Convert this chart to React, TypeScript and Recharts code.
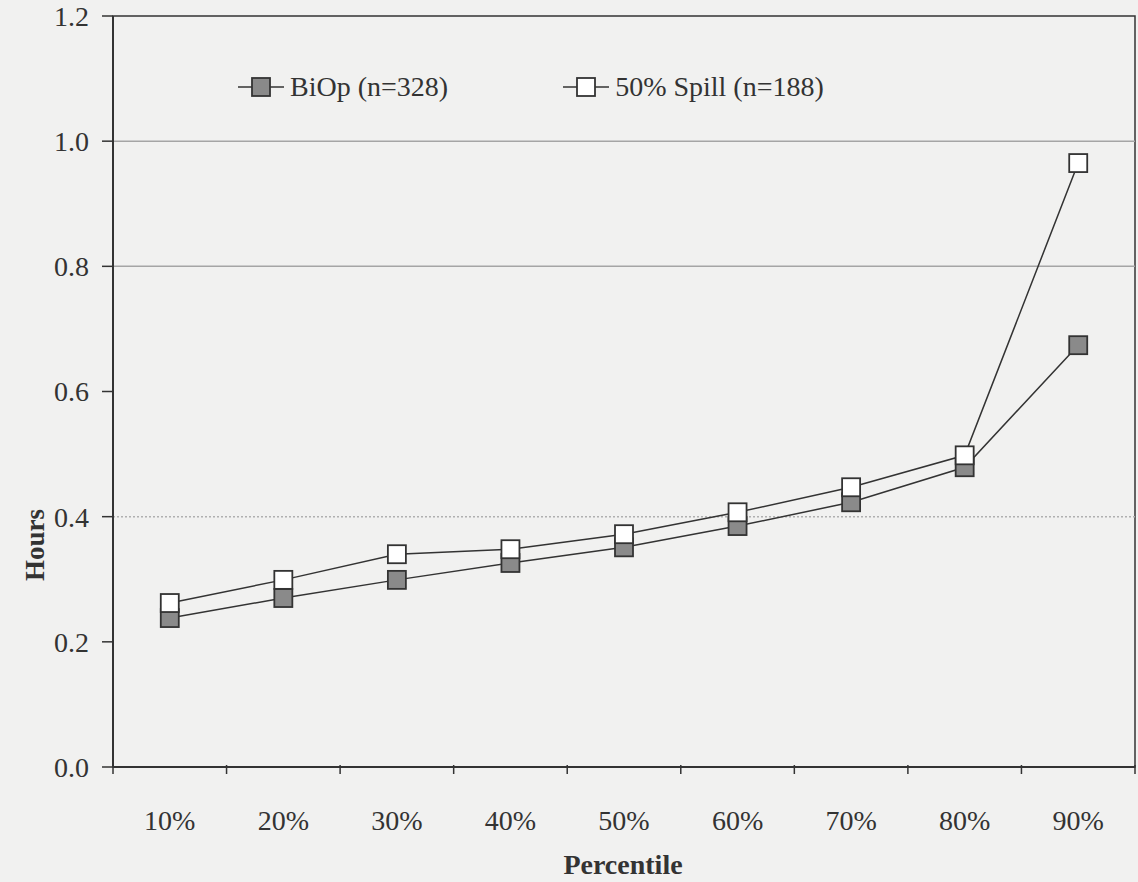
import { LineChart, Line, XAxis, YAxis, Legend, ReferenceArea, ReferenceLine } from 'recharts'

const categories = ['10%', '20%', '30%', '40%', '50%', '60%', '70%', '80%', '90%']
const biop = [0.238, 0.27, 0.299, 0.326, 0.351, 0.385, 0.423, 0.479, 0.674]
const spill = [0.262, 0.299, 0.34, 0.348, 0.372, 0.407, 0.447, 0.498, 0.965]
const yTicks = [0, 0.2, 0.4, 0.6, 0.8, 1.0, 1.2]

const seriesOrder = ['biop', 'spill']
const seriesNames: Record<string, string> = {
  biop: 'BiOp (n=328)',
  spill: '50% Spill (n=188)',
}
const seriesFill: Record<string, string> = {
  biop: '#8a8a8a',
  spill: '#ffffff',
}

const data = categories.map((c, i) => ({ pos: i + 0.5, category: c, biop: biop[i], spill: spill[i] }))

// tick marks sit on the category boundaries, labels in the middle of each category
const xTicks = [
  ...categories.map((_, i) => i),
  categories.length,
  ...categories.map((_, i) => i + 0.5),
]

const FONT = '"Liberation Serif", "Times New Roman", serif'
const INK = '#333'

function XTick(props: any) {
  const { x, y, payload } = props
  const v = payload.value
  if (Number.isInteger(v)) {
    return <line x1={x} x2={x} y1={y - 2} y2={y + 7} stroke={INK} strokeWidth={1.5} />
  }
  return (
    <text x={x} y={y + 53} textAnchor="middle" dominantBaseline="central" fontSize={28} fontFamily={FONT} fill={INK}>
      {categories[Math.floor(v)]}
    </text>
  )
}

const squareDot = (fill: string) => (p: any) => (
  <rect
    key={`${p.dataKey}-${p.index}`}
    x={p.cx - 9}
    y={p.cy - 9}
    width={18}
    height={18}
    fill={fill}
    stroke={INK}
    strokeWidth={1.8}
  />
)

function LegendContent(props: any) {
  const items = [...(props.payload || [])].sort(
    (a: any, b: any) => seriesOrder.indexOf(a.dataKey) - seriesOrder.indexOf(b.dataKey),
  )
  return (
    <div style={{ display: 'flex', gap: 115, fontFamily: FONT, fontSize: 28, color: INK, lineHeight: '30px' }}>
      {items.map((it: any) => (
        <div key={it.dataKey} style={{ display: 'flex', alignItems: 'center' }}>
          <svg width={46} height={20} style={{ marginRight: 6 }}>
            <line x1={0} x2={46} y1={10} y2={10} stroke={INK} strokeWidth={1.5} />
            <rect x={14} y={1} width={18} height={18} fill={seriesFill[it.dataKey]} stroke={INK} strokeWidth={1.8} />
          </svg>
          <span>{seriesNames[it.dataKey]}</span>
        </div>
      ))}
    </div>
  )
}

export default function App() {
  return (
    <div style={{ position: 'absolute', top: 0, left: 0, width: 1138, height: 882, background: '#f1f1f0' }}>
      <LineChart width={1138} height={882} data={data} margin={{ top: 16, right: 3, left: 0, bottom: 0 }}>
        <ReferenceLine y={1.0} stroke="#a5a5a5" strokeWidth={1.5} />
        <ReferenceLine y={0.8} stroke="#a5a5a5" strokeWidth={1.5} />
        <ReferenceLine y={0.4} stroke="#b0b0b0" strokeWidth={1.5} strokeDasharray="2 2" />
        <ReferenceArea x1={0} x2={9} y1={0} y2={1.2} fill="none" stroke={INK} strokeWidth={1.5} />
        <XAxis
          type="number"
          dataKey="pos"
          domain={[0, 9]}
          ticks={xTicks}
          interval={0}
          tick={<XTick />}
          tickLine={false}
          tickSize={0}
          tickMargin={0}
          axisLine={{ stroke: INK, strokeWidth: 2 }}
          height={115}
          label={() => (
            <text x={623} y={864} textAnchor="middle" dominantBaseline="central" fontSize={28} fontWeight="bold" fontFamily={FONT} fill={INK}>
              Percentile
            </text>
          )}
        />
        <YAxis
          domain={[0, 1.2]}
          ticks={yTicks}
          width={113}
          tickFormatter={(v: number) => v.toFixed(1)}
          tick={{ fontSize: 28, fontFamily: FONT, fill: INK }}
          tickSize={11}
          tickMargin={13}
          tickLine={{ stroke: INK, strokeWidth: 1.5 }}
          axisLine={{ stroke: INK, strokeWidth: 2 }}
          label={() => (
            <text
              x={35}
              y={545}
              transform="rotate(-90, 35, 545)"
              textAnchor="middle"
              dominantBaseline="central"
              fontSize={27}
              fontWeight="bold"
              fontFamily={FONT}
              fill={INK}
            >
              Hours
            </text>
          )}
        />
        <Legend
          layout="horizontal"
          verticalAlign="middle"
          align="center"
          wrapperStyle={{ top: 72, left: 238, width: 'auto', height: 'auto' }}
          content={<LegendContent />}
        />
        <Line
          dataKey="biop"
          name={seriesNames.biop}
          stroke={INK}
          strokeWidth={1.5}
          dot={squareDot(seriesFill.biop)}
          isAnimationActive={false}
        />
        <Line
          dataKey="spill"
          name={seriesNames.spill}
          stroke={INK}
          strokeWidth={1.5}
          dot={squareDot(seriesFill.spill)}
          isAnimationActive={false}
        />
      </LineChart>
    </div>
  )
}
